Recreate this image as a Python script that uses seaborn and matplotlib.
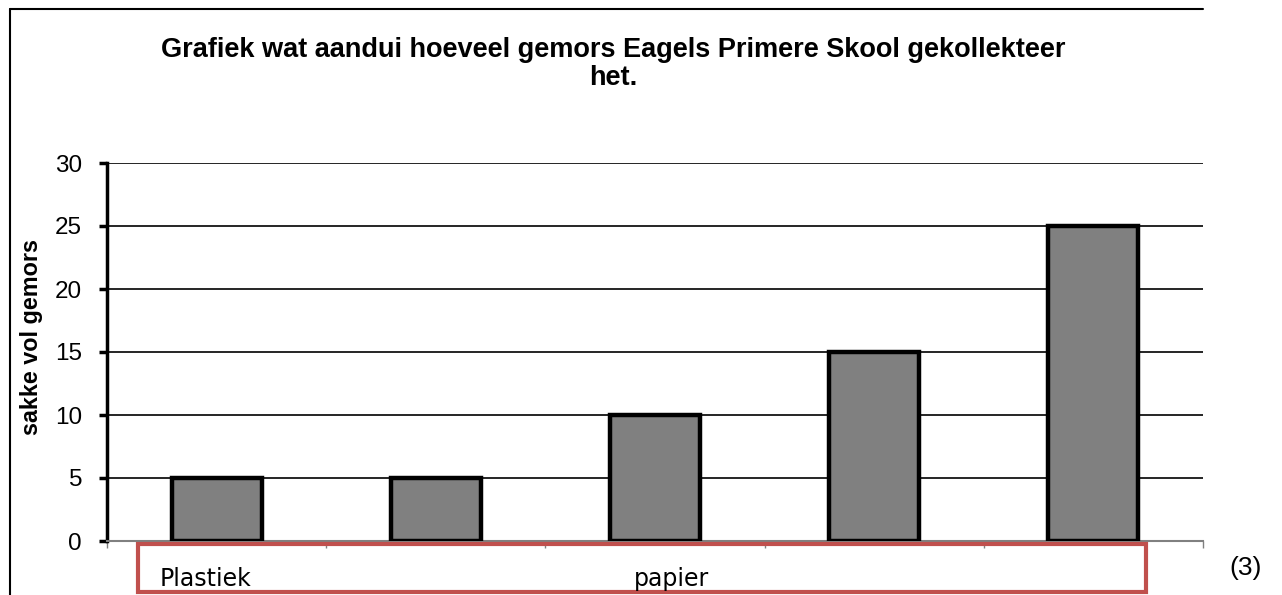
import seaborn as sns
import matplotlib.pyplot as plt
from matplotlib.patches import Rectangle
from matplotlib.lines import Line2D
import pandas as pd

# data
categories = ["A", "B", "C", "D", "E"]
sakke = [5, 5, 10, 15, 25]
box_labels = ["Plastiek", "papier"]
title = "Grafiek wat aandui hoeveel gemors Eagels Primere Skool gekollekteer\nhet."
ylabel = "sakke vol gemors"
yticks = [0, 5, 10, 15, 20, 25, 30]

df = pd.DataFrame({"cat": categories, "sakke": sakke})

sns.set_style("white")
plt.rcParams["font.family"] = ["Liberation Sans", "DejaVu Sans"]
plt.rcParams["text.color"] = "black"
plt.rcParams["axes.labelcolor"] = "black"
plt.rcParams["ytick.color"] = "black"

fig = plt.figure(figsize=(12.82, 5.95), dpi=100)
ax = fig.add_axes([107 / 1282, 1 - 541 / 595, (1203 - 107) / 1282, (541 - 163) / 595])

sns.barplot(data=df, x="cat", y="sakke", order=categories, color="#808080",
            edgecolor="black", linewidth=3.2, width=0.41, saturation=1, ax=ax, zorder=3)

ax.set_ylim(0, 30)
ax.set_xlim(-0.5, len(categories) - 0.5)
ax.set_yticks(yticks)
ax.yaxis.grid(True, color="black", linewidth=1.2, zorder=0)
ax.set_axisbelow(True)
ax.tick_params(axis="y", labelsize=17.5, length=6, width=2.5, color="black", pad=12, left=True)
ax.set_xticks([i - 0.5 for i in range(len(categories) + 1)])
ax.set_xticklabels([])
ax.tick_params(axis="x", length=5, width=1, color="#808080", bottom=True)
ax.set_xlabel("")
ax.set_ylabel(ylabel, fontsize=16.8, fontweight="bold")
ax.yaxis.set_label_coords(-0.058, 0.54)

for s in ["top", "right"]:
    ax.spines[s].set_visible(False)
ax.spines["left"].set_linewidth(2.5)
ax.spines["left"].set_color("black")
ax.spines["bottom"].set_linewidth(1.5)
ax.spines["bottom"].set_color("#808080")

fig.text(0.478, 1 - 64 / 595, title, ha="center", va="center", fontsize=19.5,
         fontweight="bold", linespacing=1.12)

# outer frame lines (left and top)
fig.add_artist(Line2D([10 / 1282, 10 / 1282], [0, 1 - 9 / 595], color="black", lw=1.5))
fig.add_artist(Line2D([10 / 1282, 1203 / 1282], [1 - 9 / 595, 1 - 9 / 595], color="black", lw=1.5))

# red box with category names
fig.add_artist(Rectangle((138 / 1282, 3 / 595), (1146 - 138) / 1282, (593 - 545) / 595,
                         transform=fig.transFigure, fill=False, edgecolor="#C0504D", lw=3))
fig.text(160 / 1282, 1 - 579 / 595, box_labels[0], fontsize=17, va="center",
         family=["DejaVu Sans"])
fig.text(672 / 1282, 1 - 579 / 595, box_labels[1], fontsize=17, va="center", ha="center",
         family=["DejaVu Sans"])
fig.text(1246 / 1282, 1 - 568 / 595, "(3)", fontsize=19, va="center", ha="center")

fig.savefig("out.png", dpi=100)
